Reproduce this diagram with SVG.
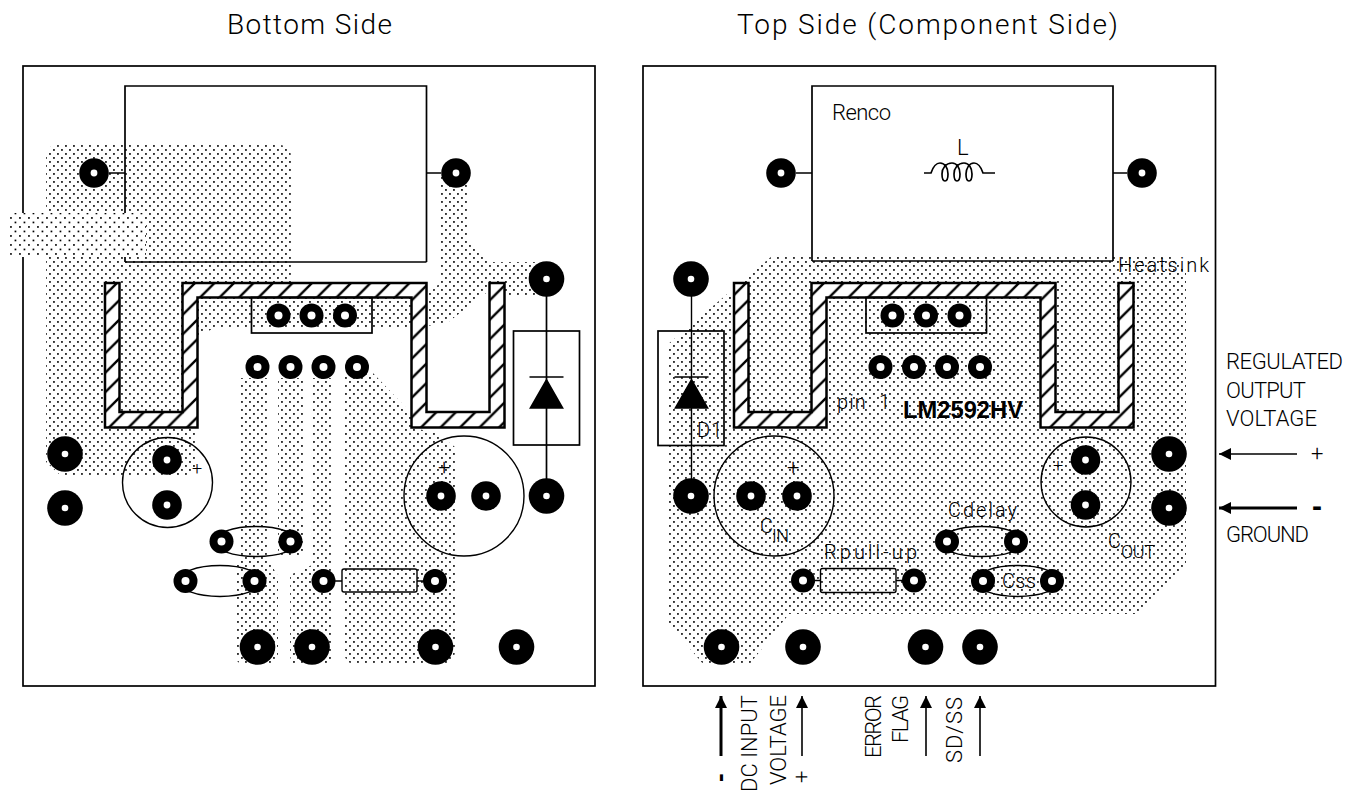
<svg xmlns="http://www.w3.org/2000/svg" xmlns:xlink="http://www.w3.org/1999/xlink" width="1356" height="794" viewBox="0 0 1356 794">
<style>
text{font-family:"Roboto","Liberation Sans",sans-serif;font-weight:300;fill:#000}
.t28{font-size:28px}.t22{font-size:22px}.t20{font-size:20px}.t18{font-size:18px}
.b{font-family:"Liberation Sans",Arial,sans-serif;font-weight:700;font-size:23px}
.ol{fill:none;stroke:#000;stroke-width:1.7}
.th{fill:none;stroke:#000;stroke-width:1.4}
.cu{fill:url(#dots)}
.hh{fill:url(#hatch);stroke:#000;stroke-width:2.5}
.ar{fill:none;stroke:#000;stroke-width:1.6}
.ar2{fill:none;stroke:#000;stroke-width:3}
</style>
<defs>
<pattern id="dots" width="8" height="8" patternUnits="userSpaceOnUse">
<rect x="1.100" y="1.100" width="1.700" height="1.700"/><rect x="5.100" y="5.100" width="1.700" height="1.700"/>
</pattern>
<pattern id="dots2" width="9" height="9" patternUnits="userSpaceOnUse">
<rect x="1.100" y="1.100" width="1.700" height="1.700"/><rect x="5.600" y="5.600" width="1.700" height="1.700"/>
</pattern>
<pattern id="hatch" width="19.5" height="19.5" patternUnits="userSpaceOnUse" patternTransform="translate(0 283)">
<rect width="19.5" height="19.5" fill="#fff"/>
<path d="M-2,21.5 L21.5,-2 M-4,4 L4,-4 M15.5,23.5 L23.5,15.5" stroke="#000" stroke-width="2.4"/>
</pattern>
<g id="pL"><circle r="17.8"/><circle r="3.3" fill="#fff"/></g>
<g id="pM"><circle r="14.8"/><circle r="3.4" fill="#fff"/></g>
<g id="pS"><circle r="12"/><circle r="4" fill="#fff"/></g>
<marker id="head" markerUnits="userSpaceOnUse" markerWidth="14" markerHeight="14" refX="12" refY="6" orient="auto">
<path d="M0,0 L12,6 L0,12 Z"/>
</marker>
<path id="hsink" d="M105,283H119.500V412H182.500V283H426.500V412H489.500V283H504.500V427.500H411.500V297.500H197.500V427.500H105Z"/>
<path id="diode" d="M0,0H34M17,3L33,31H1Z"/>
</defs>
<rect width="1356" height="794" fill="#fff"/>

<g id="titles">
<text class="t28" x="227" y="34" textLength="165" lengthAdjust="spacing">Bottom Side</text>
<text class="t28" x="737" y="34" textLength="381" lengthAdjust="spacing">Top Side (Component Side)</text>
</g>

<g id="bottom-side">
<g id="bottom-copper">
<path class="cu" d="M46,157Q46,145 58,145H279Q291,145 291,157V282H197V297H412V327H216L201,335H197V465L192,475H60L46,462Z"/>
<path class="cu" d="M440,173H467V240L483,257L490,262H535V295H505V283H490V290L447,323L427,326V295L440,283Z"/>
<path class="cu" d="M344,378V372H372L411,413V428L435,432L455,447V650Q455,665 440,665H359Q344,665 344,650Z"/>
<path class="cu" d="M312,378H333V655Q333,665 323,665H300Q290,665 290,655V575L312,565Z"/>
<path class="cu" d="M278,378H303V556H278Z"/>
<path class="cu" d="M239,378H268V560L278,576V653Q278,665 266,665H247Q235,665 235,653V566L239,560Z"/>
</g>
<rect id="bottom-board" class="ol" x="23" y="66" width="572" height="620"/>
<g id="bottom-inductor">
<path class="ol" d="M125,262V86H426.500V262"/>
<path class="th" d="M125,262H426.500"/>
<path class="ol" d="M109,173H125M426.500,173H441"/>
</g>
<g id="bottom-strip">
<rect x="10" y="213" width="136" height="44" rx="3" fill="#fff"/>
<rect x="10" y="213" width="136" height="44" rx="3" fill="url(#dots2)"/>
</g>
<use id="bottom-heatsink" href="#hsink" class="hh"/>
<rect id="bottom-ic" class="ol" x="251.500" y="297.500" width="120.500" height="35.500"/>
<g id="bottom-diode">
<rect class="ol" x="513.500" y="331" width="66" height="114"/>
<path class="ol" d="M546.500,279V496"/>
<use href="#diode" x="529.500" y="377" stroke="#000" stroke-width="1.7"/>
</g>
<g id="bottom-caps" class="th">
<circle cx="167.500" cy="482.500" r="45"/>
<circle cx="464" cy="496" r="60"/>
<ellipse cx="256" cy="541.500" rx="42" ry="15"/>
<ellipse cx="220" cy="581" rx="42" ry="15.500"/>
</g>
<g id="bottom-resistor">
<path class="ol" d="M330,581H342M417,581H428"/>
<rect class="th" x="342" y="569" width="75" height="23" rx="2"/>
</g>
<text class="t18" x="192" y="475">+</text>
<text class="t22" x="438" y="475">+</text>
<g id="bottom-pads">
<use href="#pM" x="94" y="173"/><use href="#pM" x="456" y="173"/>
<use href="#pL" x="546.500" y="279"/><use href="#pL" x="546.500" y="496"/>
<use href="#pS" x="278.500" y="315.500"/><use href="#pS" x="311.500" y="315.500"/><use href="#pS" x="345" y="315.500"/>
<use href="#pS" x="257.500" y="367"/><use href="#pS" x="290.500" y="367"/><use href="#pS" x="323.500" y="367"/><use href="#pS" x="357" y="367"/>
<use href="#pL" x="65" y="454"/><use href="#pL" x="65" y="508"/>
<use href="#pM" x="167" y="460"/><use href="#pM" x="167" y="505"/>
<use href="#pM" x="441" y="496"/><use href="#pM" x="486" y="496"/>
<use href="#pS" x="221.500" y="541.500"/><use href="#pS" x="290.500" y="541.500"/>
<use href="#pS" x="185.500" y="581"/><use href="#pS" x="254.500" y="581"/>
<use href="#pS" x="323.500" y="581"/><use href="#pS" x="435" y="581"/>
<use href="#pL" x="257.500" y="647"/><use href="#pL" x="312" y="647"/><use href="#pL" x="435.500" y="647"/><use href="#pL" x="516.500" y="647"/>
</g>
</g>

<g id="top-side">
<path id="top-copper" class="cu" d="M772,256L1112,256H1170L1186,272V565L1140,614H789L749,665H704L667,622V345Z"/>
<rect id="top-board" class="ol" x="643" y="66" width="572.500" height="620"/>
<g id="top-inductor">
<path class="ol" d="M812,261V86H1113V261"/>
<path class="th" d="M812,261H1113"/>
<path class="ol" d="M796,173H812M1113,173H1127"/>
<path class="ol" d="M924,173h7c2-6 5-10 9-10c5 0 8 5 8 11c0 4-1 7-3 7c-2 0-3-3-3-7c0-6 4-11 10-11c5 0 8 5 8 11c0 4-1 7-3 7c-2 0-3-3-3-7c0-6 4-11 10-11c5 0 8 5 8 11c0 4-1 7-3 7c-2 0-3-3-3-7c0-5 3-11 8-11c4 0 7 4 9 10h12"/>
<text class="t22" x="832" y="120" textLength="59" lengthAdjust="spacing">Renco</text>
<text class="t22" x="957" y="155">L</text>
</g>
<use id="top-heatsink" href="#hsink" x="629" class="hh"/>
<rect id="top-ic" class="ol" x="866" y="297.500" width="120.500" height="35.500"/>
<g id="top-diode">
<rect class="ol" x="658" y="331" width="66" height="114.500"/>
<path class="th" d="M691.500,279V496"/>
<use href="#diode" x="674.500" y="377" stroke="#000" stroke-width="1.7"/>
<text class="t20" x="697" y="437" textLength="25" lengthAdjust="spacing">D1</text>
</g>
<g id="top-caps" class="th">
<circle cx="774" cy="496" r="60"/>
<circle cx="1086" cy="482" r="45"/>
<ellipse cx="981.500" cy="541.500" rx="42" ry="15"/>
<ellipse cx="1017.500" cy="581" rx="42" ry="15.500"/>
</g>
<g id="top-resistor">
<path class="ol" d="M810,580.500H821M896,580.500H907"/>
<rect class="th" x="820.500" y="568.500" width="75.500" height="24" rx="2"/>
</g>
<g id="top-pads">
<use href="#pM" x="781" y="173"/><use href="#pM" x="1142" y="173"/>
<use href="#pL" x="691" y="279"/><use href="#pL" x="691" y="496"/>
<use href="#pS" x="892.500" y="315.500"/><use href="#pS" x="926" y="315.500"/><use href="#pS" x="959.500" y="315.500"/>
<use href="#pS" x="880.500" y="367"/><use href="#pS" x="914" y="367"/><use href="#pS" x="947" y="367"/><use href="#pS" x="980" y="367"/>
<use href="#pM" x="751" y="496"/><use href="#pM" x="797" y="496"/>
<use href="#pM" x="1085.500" y="460"/><use href="#pM" x="1085.500" y="505"/>
<use href="#pL" x="1169" y="454"/><use href="#pL" x="1169" y="508"/>
<use href="#pS" x="947" y="541.500"/><use href="#pS" x="1016" y="541.500"/>
<use href="#pS" x="983" y="581"/><use href="#pS" x="1052" y="581"/>
<use href="#pS" x="803" y="580.500"/><use href="#pS" x="914" y="580.500"/>
<use href="#pL" x="721.500" y="647"/><use href="#pL" x="803" y="647"/><use href="#pL" x="925.500" y="647"/><use href="#pL" x="980" y="647"/>
</g>
<g id="top-labels">
<text class="t22" x="787" y="475">+</text>
<text class="t18" x="1053" y="472">+</text>
<text class="t20" x="1118" y="272" textLength="91" lengthAdjust="spacing">Heatsink</text>
<text class="t20" x="837" y="409" textLength="53" lengthAdjust="spacing" xml:space="preserve">pin  1</text>
<text class="b" x="903" y="418" textLength="120" lengthAdjust="spacingAndGlyphs">LM2592HV</text>
<text class="t20" x="760" y="533">C</text>
<text class="t18" x="772" y="542" textLength="17" lengthAdjust="spacing">IN</text>
<text class="t20" x="824" y="559" textLength="93" lengthAdjust="spacing">Rpull-up</text>
<text class="t20" x="948" y="517" textLength="69" lengthAdjust="spacing">Cdelay</text>
<text class="t20" x="1002" y="588" textLength="34" lengthAdjust="spacing">Css</text>
<text class="t20" x="1108" y="548">C</text>
<text class="t18" x="1121" y="558" textLength="34" lengthAdjust="spacing">OUT</text>
</g>
</g>

<g id="connectors">
<path class="ar" d="M1297,454H1219" marker-end="url(#head)"/>
<path class="ar2" d="M1297,508H1219" marker-end="url(#head)"/>
<path class="ar2" d="M721,756V696" marker-end="url(#head)"/>
<path class="ar" d="M802,756V696" marker-end="url(#head)"/>
<path class="ar" d="M926,756V696" marker-end="url(#head)"/>
<path class="ar" d="M980,756V696" marker-end="url(#head)"/>
</g>

<g id="signal-labels">
<text class="t22" x="1226" y="369" textLength="117" lengthAdjust="spacing">REGULATED</text>
<text class="t22" x="1226" y="398" textLength="80" lengthAdjust="spacing">OUTPUT</text>
<text class="t22" x="1226" y="426" textLength="91" lengthAdjust="spacing">VOLTAGE</text>
<text class="t22" x="1226" y="542" textLength="83" lengthAdjust="spacing">GROUND</text>
<text class="t22" x="1311" y="461">+</text>
<text class="b" x="1312" y="516" style="font-size:30px">-</text>
<text class="b" transform="translate(728 782) rotate(-90)" style="font-size:26px">-</text>
<text class="t22" transform="translate(757 792) rotate(-90)" textLength="97" lengthAdjust="spacing">DC INPUT</text>
<text class="t22" transform="translate(786 785) rotate(-90)" textLength="90" lengthAdjust="spacing">VOLTAGE</text>
<text class="t22" transform="translate(809 783) rotate(-90)">+</text>
<text class="t22" transform="translate(881 758) rotate(-90)" textLength="63" lengthAdjust="spacing">ERROR</text>
<text class="t22" transform="translate(908 743) rotate(-90)" textLength="48" lengthAdjust="spacing">FLAG</text>
<text class="t22" transform="translate(962 763) rotate(-90)" textLength="66" lengthAdjust="spacing">SD/SS</text>
</g>
</svg>
